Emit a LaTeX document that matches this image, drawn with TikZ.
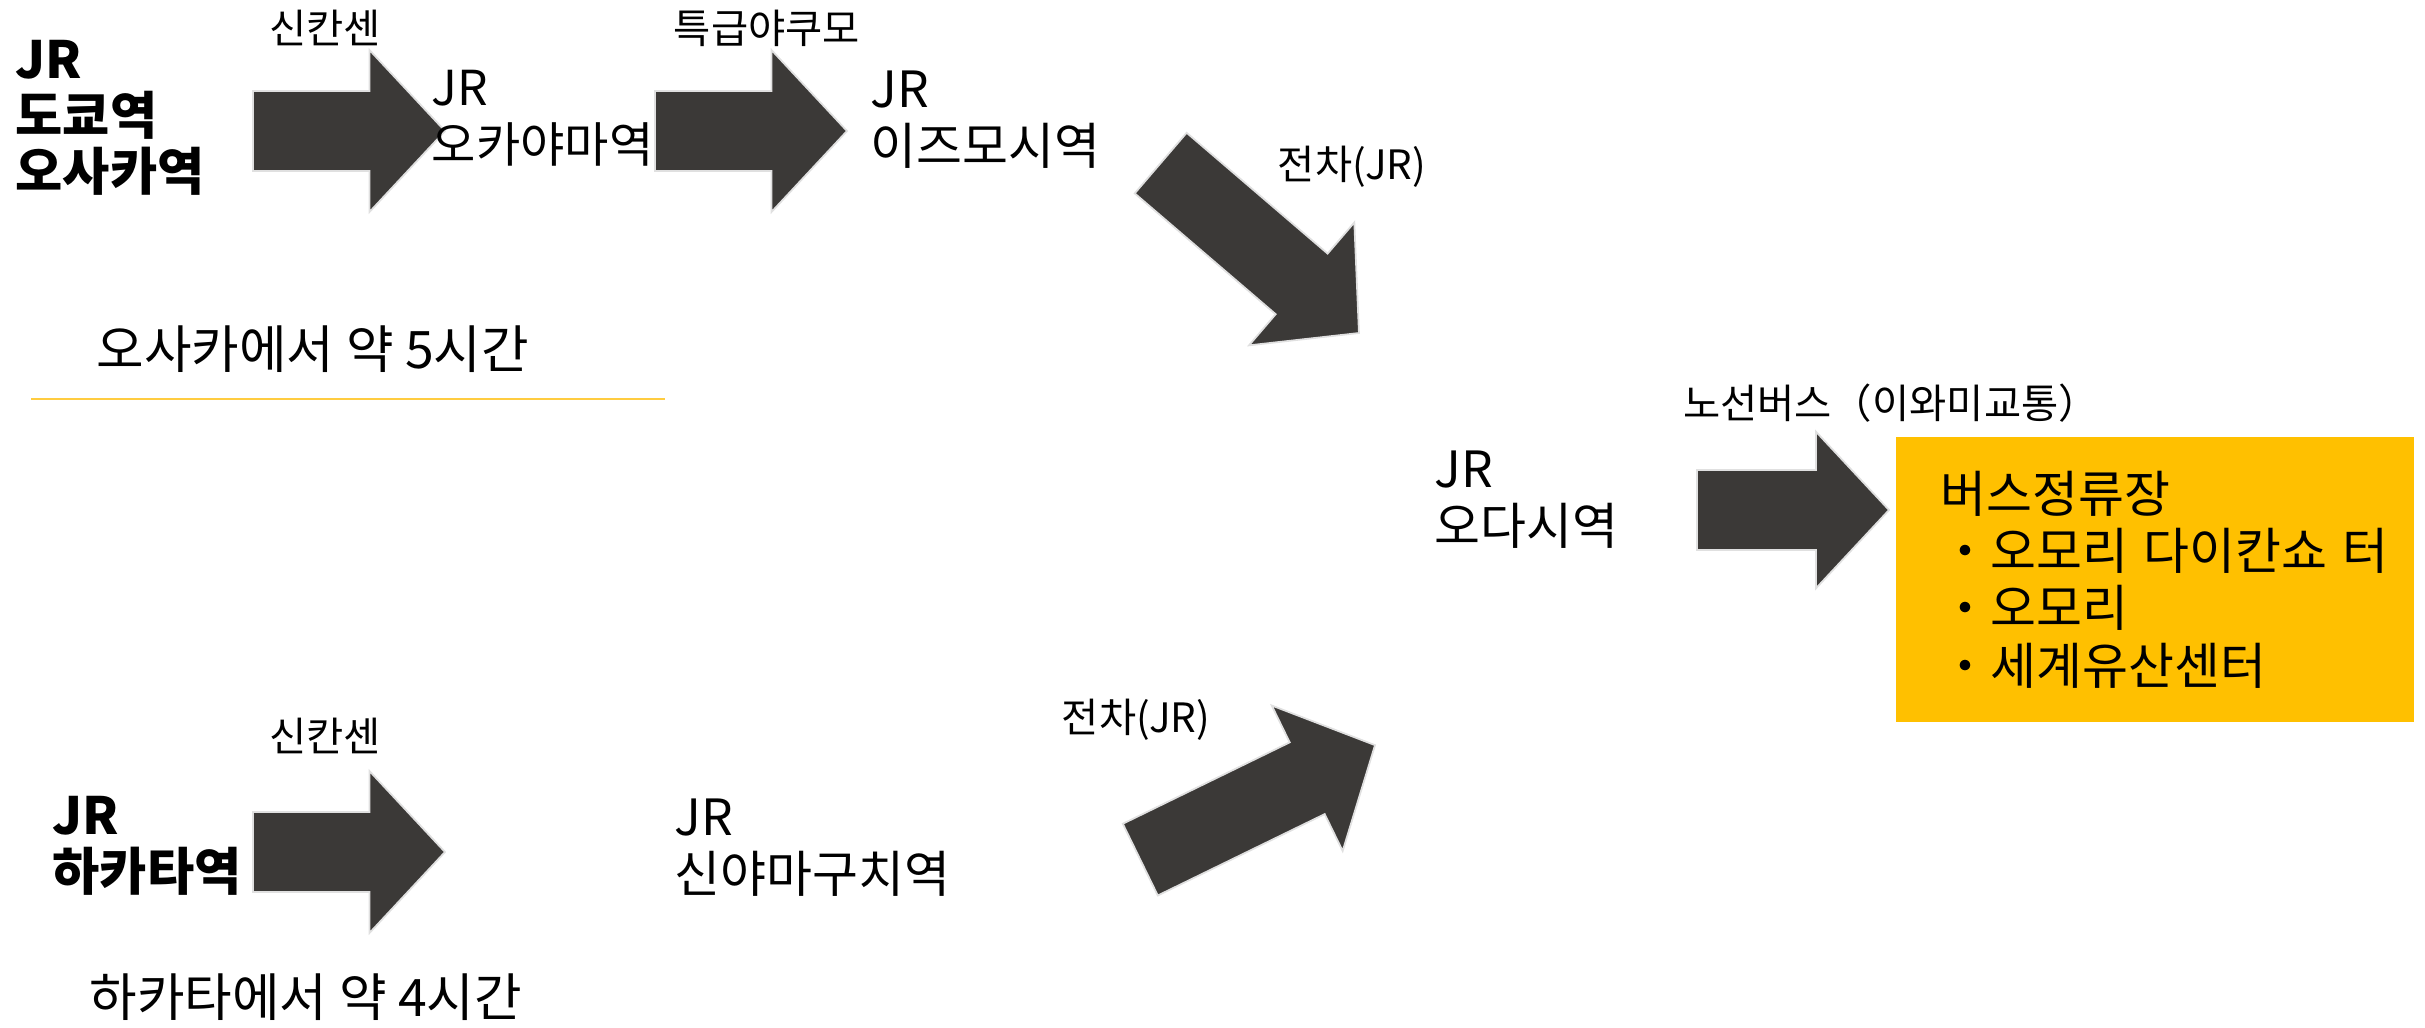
\documentclass[tikz,border=0pt]{standalone}
\usepackage{fontspec}
\setmainfont{Noto Sans CJK KR}
\usepackage{tikz}
\usetikzlibrary{shapes.arrows}
\definecolor{arrowgray}{HTML}{3B3937}
\definecolor{stopgold}{HTML}{FFC000}
\definecolor{linegold}{HTML}{FFCC40}

\begin{document}
\begin{tikzpicture}[x=0.01cm,y=-0.01cm,
		blockarrow/.style={single arrow,anchor=tail,fill=arrowgray,draw=black!12,line width=0.5pt,minimum height=1.92cm,inner xsep=0pt,inner ysep=0.39cm,single arrow head extend=0.41cm,single arrow tip angle=94},
		origin/.style={anchor=west,align=left,inner sep=0pt,font=\fontsize{14.6pt}{16pt}\selectfont\bfseries},
		station/.style={anchor=west,align=left,inner sep=0pt,font=\fontsize{14.2pt}{16.2pt}\selectfont},
		train/.style={inner sep=0pt,font=\fontsize{11.5pt}{12pt}\selectfont},
		duration/.style={anchor=west,inner sep=0pt,font=\fontsize{14.7pt}{16pt}\selectfont},
		stopbox/.style={fill=stopgold,inner xsep=0.45cm,inner ysep=0pt,text width=4.28cm,minimum height=2.85cm,align=left,font=\fontsize{14.2pt}{16.3pt}\selectfont}]
			
			\useasboundingbox (0,0) rectangle (2425,1027);
			
			\node[origin] (Tokyo) at (15,118) {JR\\도쿄역\\오사카역};
			\node[train] (Shin1) at (325,28) {신칸센};
			\node[blockarrow] (A1) at (252,131) {};
			\node[station,font=\fontsize{13.7pt}{16.2pt}\selectfont] (Okayama) at (431,118) {JR\\오카야마역};
			
			\node[train] (Yakumo) at (767,28) {특급야쿠모};
			\node[blockarrow] (A2) at (654,131) {};
			\node[station] (Izumo) at (870,120) {JR\\이즈모시역};
			
			\node[train] (Train1) at (1352,167) {전차(JR)};
			\node[blockarrow,minimum height=2.61cm,rotate=-40.6] (A3) at (1160,162.5) {};
			
			\node[duration] (FromOsaka) at (96,349) {오사카에서 약 5시간};
			\draw[linegold,line width=0.8pt] (31,399) -- (665,399);
			
			\node[station] (Oda) at (1434,500) {JR\\오다시역};
			\node[train] (Bus) at (1891,403) {노선버스（이와미교통）};
			\node[blockarrow,single arrow head extend=0.385cm] (A4) at (1696,510) {};
			\node[stopbox] (Stops) at (2155,579.5) {버스정류장\\\mbox{・오모리\hspace{0.3em}다이칸쇼\hspace{0.3em}터}\\・오모리\\・세계유산센터};
			
			\node[origin] (Hakata) at (52,846) {JR\\하카타역};
			\node[train] (Shin2) at (325,736) {신칸센};
			\node[blockarrow] (A5) at (252,852) {};
			\node[station] (ShinYamaguchi) at (674,848) {JR\\신야마구치역};
			
			\node[train] (Train2) at (1136,720) {전차(JR)};
			\node[blockarrow,minimum height=2.61cm,rotate=26] (A6) at (1139.5,860) {};
			
			\node[duration] (FromHakata) at (89,997) {하카타에서 약 4시간};
			
		\end{tikzpicture}
\end{document}
